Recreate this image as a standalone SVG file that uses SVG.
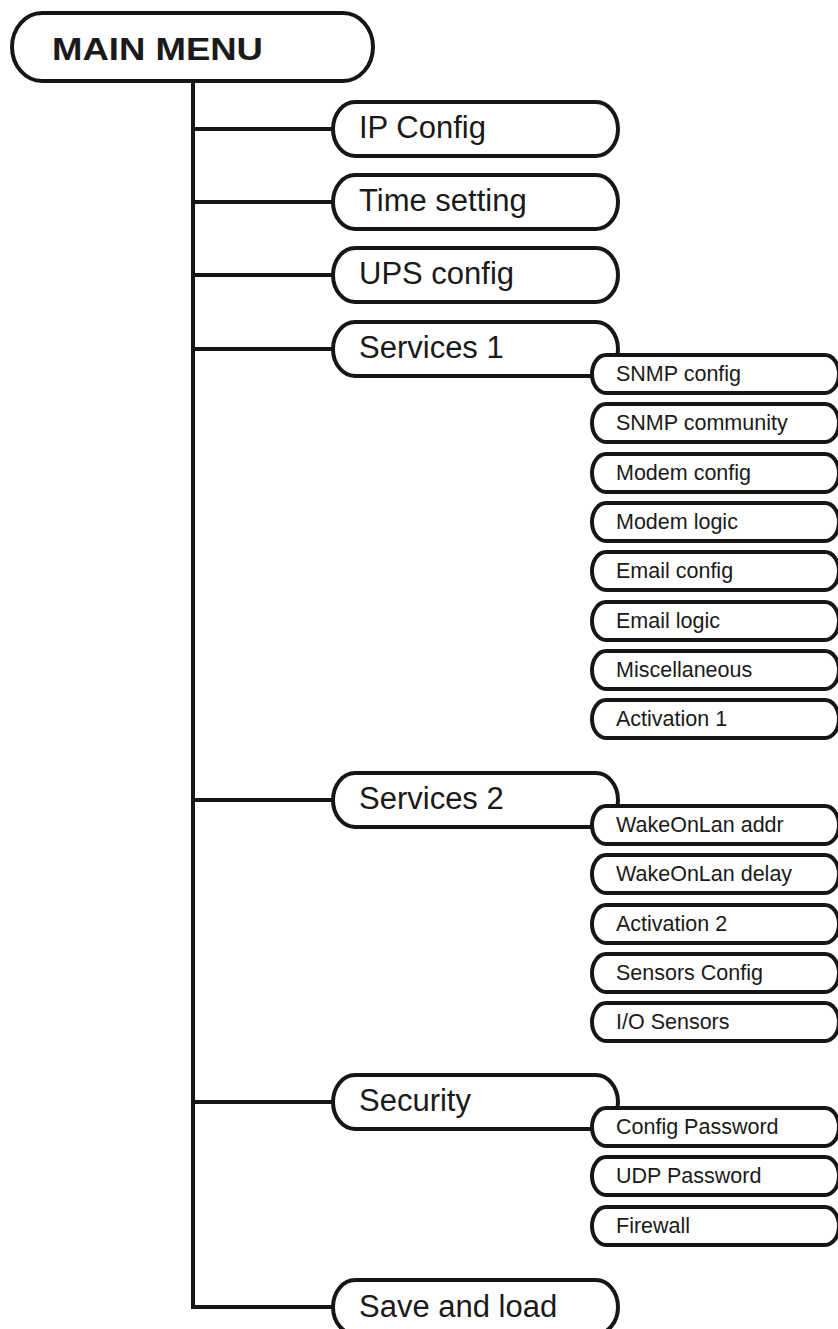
<svg xmlns="http://www.w3.org/2000/svg" width="838" height="1329" viewBox="0 0 838 1329">
<style>
.bg{fill:#fff}
.box{fill:#fff;stroke:#161616;stroke-width:4}
.con{fill:none;stroke:#161616;stroke-width:4;stroke-linejoin:miter}
.t1{font-family:"Liberation Sans",Arial,sans-serif;font-size:31px;fill:#1a1a1a}
.t2{font-family:"Liberation Sans",Arial,sans-serif;font-size:21.5px;fill:#1a1a1a}
.tm{font-family:"Liberation Sans",Arial,sans-serif;font-size:32px;font-weight:bold;fill:#1a1a1a}
</style>
<rect class="bg" x="0" y="0" width="838" height="1329"/>
<g id="connectors">
<path class="con" d="M193 81 V1307 H333 M193 129 H333 M193 202 H333 M193 275 H333 M193 349 H333 M193 800 H333 M193 1102 H333"/>
</g>
<g id="main-menu">
<rect class="box" x="12" y="13" width="361" height="68" rx="30" ry="34"/>
<text class="tm" x="52" y="60" textLength="211" lengthAdjust="spacingAndGlyphs">MAIN MENU</text>
</g>
<g id="ip-config">
<rect class="box" x="333" y="102" width="285" height="54" rx="22" ry="27"/>
<text class="t1" x="359" y="138">IP Config</text>
</g>
<g id="time-setting">
<rect class="box" x="333" y="175" width="285" height="54" rx="22" ry="27"/>
<text class="t1" x="359" y="211">Time setting</text>
</g>
<g id="ups-config">
<rect class="box" x="333" y="248" width="285" height="54" rx="22" ry="27"/>
<text class="t1" x="359" y="284">UPS config</text>
</g>
<g id="services-1">
<rect class="box" x="333" y="322" width="285" height="54" rx="22" ry="27"/>
<text class="t1" x="359" y="358">Services 1</text>
</g>
<g id="services-2">
<rect class="box" x="333" y="773" width="285" height="54" rx="22" ry="27"/>
<text class="t1" x="359" y="809">Services 2</text>
</g>
<g id="security">
<rect class="box" x="333" y="1075" width="285" height="54" rx="22" ry="27"/>
<text class="t1" x="359" y="1111">Security</text>
</g>
<g id="save-and-load">
<rect class="box" x="333" y="1280" width="285" height="54" rx="22" ry="27"/>
<text class="t1" x="359" y="1317">Save and load</text>
</g>
<g id="snmp-config"><rect class="box" x="592" y="355" width="247" height="38" rx="14" ry="19"/><text class="t2" x="616" y="381">SNMP config</text></g>
<g id="snmp-community"><rect class="box" x="592" y="404" width="247" height="38" rx="14" ry="19"/><text class="t2" x="616" y="430">SNMP community</text></g>
<g id="modem-config"><rect class="box" x="592" y="454" width="247" height="38" rx="14" ry="19"/><text class="t2" x="616" y="480">Modem config</text></g>
<g id="modem-logic"><rect class="box" x="592" y="503" width="247" height="38" rx="14" ry="19"/><text class="t2" x="616" y="529">Modem logic</text></g>
<g id="email-config"><rect class="box" x="592" y="552" width="247" height="38" rx="14" ry="19"/><text class="t2" x="616" y="578">Email config</text></g>
<g id="email-logic"><rect class="box" x="592" y="602" width="247" height="38" rx="14" ry="19"/><text class="t2" x="616" y="628">Email logic</text></g>
<g id="miscellaneous"><rect class="box" x="592" y="651" width="247" height="38" rx="14" ry="19"/><text class="t2" x="616" y="677">Miscellaneous</text></g>
<g id="activation-1"><rect class="box" x="592" y="700" width="247" height="38" rx="14" ry="19"/><text class="t2" x="616" y="726">Activation 1</text></g>
<g id="wakeonlan-addr"><rect class="box" x="592" y="806" width="247" height="38" rx="14" ry="19"/><text class="t2" x="616" y="832">WakeOnLan addr</text></g>
<g id="wakeonlan-delay"><rect class="box" x="592" y="855" width="247" height="38" rx="14" ry="19"/><text class="t2" x="616" y="881">WakeOnLan delay</text></g>
<g id="activation-2"><rect class="box" x="592" y="905" width="247" height="38" rx="14" ry="19"/><text class="t2" x="616" y="931">Activation 2</text></g>
<g id="sensors-config"><rect class="box" x="592" y="954" width="247" height="38" rx="14" ry="19"/><text class="t2" x="616" y="980">Sensors Config</text></g>
<g id="io-sensors"><rect class="box" x="592" y="1003" width="247" height="38" rx="14" ry="19"/><text class="t2" x="616" y="1029">I/O Sensors</text></g>
<g id="config-password"><rect class="box" x="592" y="1108" width="247" height="38" rx="14" ry="19"/><text class="t2" x="616" y="1134">Config Password</text></g>
<g id="udp-password"><rect class="box" x="592" y="1157" width="247" height="38" rx="14" ry="19"/><text class="t2" x="616" y="1183">UDP Password</text></g>
<g id="firewall"><rect class="box" x="592" y="1207" width="247" height="38" rx="14" ry="19"/><text class="t2" x="616" y="1233">Firewall</text></g>
</svg>
